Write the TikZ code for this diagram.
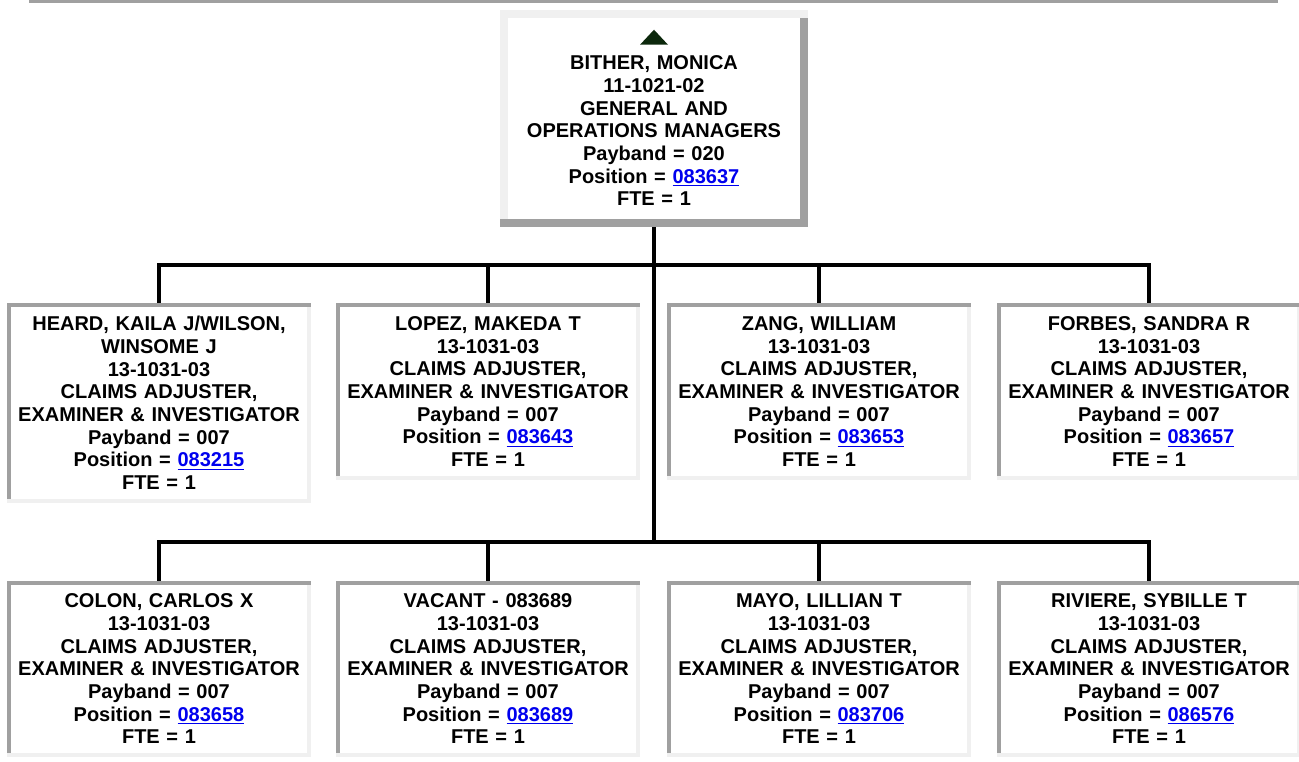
\documentclass[tikz,border=0pt]{standalone}
\usepackage{fontspec}
\setmainfont{Liberation Sans}
\usepackage{xcolor}
\usetikzlibrary{positioning,calc}

\definecolor{edgedark}{RGB}{160,160,160}
\definecolor{edgelite}{RGB}{240,240,240}
\definecolor{linkblue}{RGB}{0,0,238}
\definecolor{markgreen}{RGB}{12,40,12}

\tikzset{
    staff/.style={rectangle, minimum width=225pt, text width=215pt, inner xsep=5pt,
        align=center, font=\fontsize{15}{17}\selectfont\bfseries},
    wire/.style={line width=3pt, black, line cap=rect},
    inset/.style={line width=3pt, line cap=rect},
    outset/.style={line width=6pt, line cap=rect}
}
\newcommand{\poslink}[1]{\textcolor{linkblue}{\underline{#1}}}

\begin{document}
\begin{tikzpicture}[x=0.75pt, y=-0.75pt]
    \useasboundingbox (0,0) rectangle (1299,761);

    % rule across the top
    \draw[edgedark, line width=2.25pt] (29,1.5) -- (1278,1.5);

    % Manager
    \node[staff, minimum height=156.75pt] (boss) at (654,118.5) {\strut\\
        BITHER, MONICA\\ 11-1021-02\\ GENERAL AND\\ OPERATIONS MANAGERS\\
        Payband = 020\\ Position = \poslink{083637}\\ FTE = 1};
    \fill[markgreen] ([yshift=-12pt]boss.north) -- ++(10.5pt,-11.25pt) -- ++(-21pt,0) -- cycle;

    % First row
    \node[staff, minimum height=147pt] (heard) at (159,403) {HEARD, KAILA J/WILSON,\\ WINSOME J\\ 13-1031-03\\
        CLAIMS ADJUSTER,\\ EXAMINER \& INVESTIGATOR\\ Payband = 007\\ Position = \poslink{083215}\\ FTE = 1};
    \node[staff, minimum height=129.75pt] (lopez) at (488,391.5) {LOPEZ, MAKEDA T\\ 13-1031-03\\
        CLAIMS ADJUSTER,\\ EXAMINER \& INVESTIGATOR\\ Payband = 007\\ Position = \poslink{083643}\\ FTE = 1};
    \node[staff, minimum height=129.75pt] (zang) at (819,391.5) {ZANG, WILLIAM\\ 13-1031-03\\
        CLAIMS ADJUSTER,\\ EXAMINER \& INVESTIGATOR\\ Payband = 007\\ Position = \poslink{083653}\\ FTE = 1};
    \node[staff, minimum height=129.75pt] (forbes) at (1149,391.5) {FORBES, SANDRA R\\ 13-1031-03\\
        CLAIMS ADJUSTER,\\ EXAMINER \& INVESTIGATOR\\ Payband = 007\\ Position = \poslink{083657}\\ FTE = 1};

    % Second row
    \node[staff, minimum height=129pt] (colon) at (159,669) {COLON, CARLOS X\\ 13-1031-03\\
        CLAIMS ADJUSTER,\\ EXAMINER \& INVESTIGATOR\\ Payband = 007\\ Position = \poslink{083658}\\ FTE = 1};
    \node[staff, minimum height=129pt] (vacant) at (488,669) {VACANT - 083689\\ 13-1031-03\\
        CLAIMS ADJUSTER,\\ EXAMINER \& INVESTIGATOR\\ Payband = 007\\ Position = \poslink{083689}\\ FTE = 1};
    \node[staff, minimum height=129pt] (mayo) at (819,669) {MAYO, LILLIAN T\\ 13-1031-03\\
        CLAIMS ADJUSTER,\\ EXAMINER \& INVESTIGATOR\\ Payband = 007\\ Position = \poslink{083706}\\ FTE = 1};
    \node[staff, minimum height=129pt] (riviere) at (1149,669) {RIVIERE, SYBILLE T\\ 13-1031-03\\
        CLAIMS ADJUSTER,\\ EXAMINER \& INVESTIGATOR\\ Payband = 007\\ Position = \poslink{086576}\\ FTE = 1};

    % Connectors
    \coordinate (upbar) at (0,265);
    \coordinate (lowbar) at (0,541.5);
    \draw[wire] (boss.south) -- (boss.south |- lowbar);
    \draw[wire] (heard.north |- upbar) -- (forbes.north |- upbar);
    \draw[wire] (colon.north |- lowbar) -- (riviere.north |- lowbar);
    \foreach \n in {heard,lopez,zang,forbes} {
        \draw[wire] (\n.north |- upbar) -- (\n.north);
    }
    \foreach \n in {colon,vacant,mayo,riviere} {
        \draw[wire] (\n.north |- lowbar) -- (\n.north);
    }

    % Box edges
    \draw[edgedark, outset] (boss.north east) -- (boss.south east) -- (boss.south west);
    \draw[edgelite, outset] (boss.south west) -- (boss.north west) -- (boss.north east);
    \draw[edgedark, outset] (boss.south east) -- (boss.south west);
    \foreach \n in {heard,lopez,zang,forbes,colon,vacant,mayo,riviere} {
        \draw[edgelite, inset] (\n.north east) -- (\n.south east) -- (\n.south west);
        \draw[edgedark, inset] (\n.south west) -- (\n.north west) -- (\n.north east);
        \draw[edgelite, inset] (\n.south east) -- (\n.south west);
    }
\end{tikzpicture}
\end{document}
